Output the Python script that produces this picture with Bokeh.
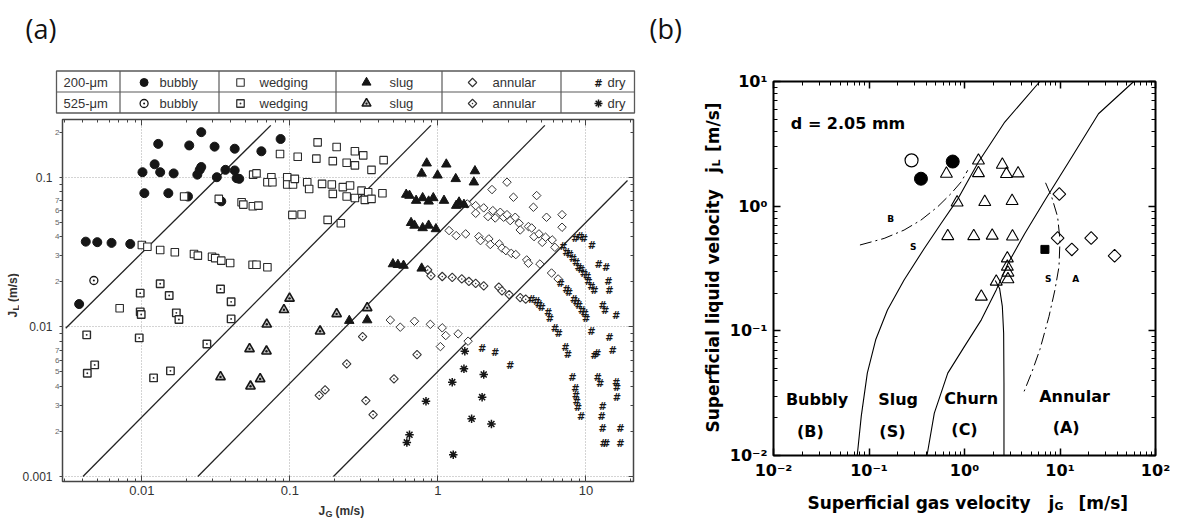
import math
from bokeh.plotting import figure
from bokeh.models import Range1d, FixedTicker, LogAxis
from bokeh.layouts import row, column
from bokeh.core.properties import value
from bokeh.embed import file_html
from bokeh.resources import INLINE

FA = "Liberation Sans"
FB = "DejaVu Sans"
INK = "#161616"

# ---------------- panel (a) data: (jG, jL) in m/s ----------------
A_BUB200 = [(0.0101, 0.108), (0.0122, 0.122), (0.0133, 0.108), (0.0129, 0.167), (0.0104, 0.0782),
            (0.0151, 0.0782), (0.0164, 0.106), (0.0209, 0.163), (0.0252, 0.200), (0.0237, 0.104),
            (0.0246, 0.112), (0.0252, 0.117), (0.0310, 0.160), (0.0321, 0.100), (0.0367, 0.112),
            (0.0424, 0.155), (0.0424, 0.111), (0.0437, 0.0985), (0.0455, 0.0975), (0.0642, 0.149),
            (0.0866, 0.180), (0.0205, 0.0743), (0.0344, 0.069), (0.00418, 0.0371), (0.00500, 0.0368),
            (0.00624, 0.0364), (0.00835, 0.0358), (0.00377, 0.0142)]
A_BUB525 = [(0.00474, 0.0204)]
A_WED200 = [(0.0193, 0.0743), (0.0331, 0.0716), (0.0472, 0.0680), (0.0485, 0.0656), (0.0562, 0.0640),
            (0.0613, 0.0646), (0.0565, 0.104), (0.0595, 0.106), (0.0750, 0.100), (0.0705, 0.0926),
            (0.0762, 0.0926), (0.0858, 0.143), (0.0960, 0.100), (0.0960, 0.0893), (0.105, 0.0893),
            (0.108, 0.0975), (0.113, 0.137), (0.104, 0.0560), (0.120, 0.0563), (0.131, 0.0926),
            (0.135, 0.0835), (0.151, 0.133), (0.154, 0.171),
            (0.0100, 0.0352), (0.0109, 0.0343), (0.0133, 0.0326), (0.0167, 0.0315), (0.0225, 0.0307),
            (0.0239, 0.0299), (0.0298, 0.0294), (0.0313, 0.0288), (0.0344, 0.0277), (0.0395, 0.0267),
            (0.0560, 0.0260), (0.0595, 0.0260), (0.0705, 0.0250), (0.00708, 0.0133),
            (0.207, 0.159), (0.275, 0.149), (0.313, 0.140), (0.195, 0.128), (0.242, 0.125),
            (0.275, 0.120), (0.356, 0.112), (0.430, 0.130), (0.165, 0.0902), (0.192, 0.0893),
            (0.195, 0.0774), (0.228, 0.0858), (0.255, 0.0880), (0.242, 0.0743), (0.275, 0.0727),
            (0.305, 0.0814), (0.338, 0.0794), (0.321, 0.0705), (0.356, 0.0716), (0.422, 0.0782),
            (0.180, 0.0519), (0.221, 0.0492)]
A_WED525 = [(0.00975, 0.0168), (0.00975, 0.0126), (0.0099, 0.0121), (0.0133, 0.0194), (0.0153, 0.0162),
            (0.0171, 0.0124), (0.0178, 0.0112), (0.0340, 0.0179), (0.0401, 0.0147), (0.0401, 0.0113),
            (0.00424, 0.00884), (0.00428, 0.0049), (0.0048, 0.00557), (0.0096, 0.00844),
            (0.0120, 0.00456), (0.0156, 0.00508), (0.0275, 0.00769)]
A_SLUG200 = [(0.840, 0.124), (1.14, 0.122), (0.777, 0.106), (0.995, 0.103), (1.32, 0.0975), (1.78, 0.110),
             (1.75, 0.0926), (0.611, 0.0766), (0.643, 0.0754), (0.713, 0.0698), (0.789, 0.0727),
             (0.866, 0.0690), (0.931, 0.0727), (1.10, 0.0698), (1.33, 0.0646), (1.39, 0.0680),
             (1.50, 0.0656), (0.659, 0.0496), (0.695, 0.0476), (0.789, 0.0458), (0.866, 0.0476),
             (0.970, 0.0451), (0.497, 0.0263), (0.537, 0.0260), (0.586, 0.0257), (0.777, 0.0246),
             (0.252, 0.0110), (0.333, 0.0111)]
A_SLUG525 = [(0.0995, 0.0155), (0.0912, 0.0130), (0.0698, 0.0104), (0.0534, 0.00713), (0.0695, 0.00687),
             (0.0340, 0.00463), (0.0542, 0.00401), (0.0630, 0.00449), (0.160, 0.00935), (0.207, 0.0122),
             (0.333, 0.0134)]
A_ANN200 = [(2.93, 0.0926), (2.32, 0.0827), (4.65, 0.0754), (3.24, 0.0735), (4.42, 0.0630), (5.42, 0.0540),
            (6.90, 0.0562), (6.90, 0.0463),
            (1.58, 0.0663), (1.80, 0.0646), (1.80, 0.0574), (2.04, 0.0624), (2.18, 0.0546), (2.35, 0.0598),
            (2.44, 0.0534), (2.64, 0.0583), (2.78, 0.0540), (2.93, 0.0562), (3.08, 0.0513), (3.33, 0.0540),
            (3.54, 0.0492), (3.60, 0.0444), (4.09, 0.0468), (4.30, 0.0458), (4.46, 0.0401), (4.82, 0.0418),
            (5.07, 0.0367), (5.34, 0.0397), (5.92, 0.0381), (6.17, 0.0340),
            (1.19, 0.0440), (1.33, 0.0407), (1.54, 0.0418), (1.89, 0.0401), (1.94, 0.0377), (2.21, 0.0387),
            (2.26, 0.0355), (2.60, 0.0358), (2.71, 0.0336), (2.88, 0.0323), (3.13, 0.0310), (3.36, 0.0304),
            (3.98, 0.0280), (4.09, 0.0266), (4.89, 0.0263), (5.86, 0.0229), (6.49, 0.0209),
            (0.477, 0.0111), (0.557, 0.00995), (0.695, 0.0109), (0.889, 0.0104), (1.07, 0.00985),
            (1.13, 0.00875), (1.37, 0.00898), (1.60, 0.00802), (1.04, 0.00738)]
A_ANN525 = [(0.853, 0.0240), (0.898, 0.0220), (1.07, 0.0217), (1.25, 0.0214), (1.45, 0.0209), (1.62, 0.0201),
            (1.80, 0.0195), (2.04, 0.0188), (2.58, 0.0184), (2.71, 0.0174), (3.03, 0.0164), (3.60, 0.0157),
            (3.92, 0.0153),
            (0.310, 0.00861), (0.723, 0.00653), (0.242, 0.00566), (0.505, 0.00449), (0.158, 0.00348),
            (0.173, 0.00379), (0.326, 0.00321), (0.365, 0.00259)]
A_DRY200 = [(8.49, 0.0391), (9.12, 0.0403), (9.70, 0.0391), (11.0, 0.0349), (7.02, 0.0344), (7.38, 0.0315),
            (7.78, 0.0304), (8.18, 0.0285), (8.61, 0.0270), (8.93, 0.0250), (9.31, 0.0240), (9.70, 0.0226),
            (10.2, 0.0217), (10.4, 0.0201), (10.9, 0.0186), (11.4, 0.0175), (12.2, 0.0260), (13.7, 0.0250),
            (14.2, 0.0201), (14.4, 0.0175), (13.0, 0.0139), (13.5, 0.0128), (16.0, 0.0119),
            (6.76, 0.0195), (7.38, 0.0179), (7.69, 0.0170), (8.31, 0.0153), (8.66, 0.0146), (8.98, 0.0139),
            (9.40, 0.0128), (9.80, 0.0123), (10.05, 0.0113), (4.30, 0.0153), (4.65, 0.0148), (4.82, 0.0141),
            (5.02, 0.0135), (5.57, 0.0125), (5.71, 0.0113),
            (6.17, 0.0097), (6.56, 0.00898), (7.27, 0.00731), (7.57, 0.00653), (8.10, 0.00456),
            (8.49, 0.00385), (8.57, 0.00348), (8.66, 0.00318), (8.84, 0.0029), (9.31, 0.00251),
            (10.9, 0.00935), (11.4, 0.00643), (11.9, 0.00667), (12.0, 0.00456), (12.5, 0.0042),
            (13.0, 0.00293), (12.8, 0.00251), (13.0, 0.00208), (13.2, 0.00165), (13.7, 0.00165),
            (14.4, 0.00853), (15.2, 0.00695), (16.0, 0.00427), (16.2, 0.00391), (16.2, 0.00339),
            (17.1, 0.00208), (17.1, 0.00165), (1.99, 0.00713), (2.44, 0.00677), (3.08, 0.00551)]
A_DRY525 = [(1.52, 0.00687), (1.50, 0.00524), (1.25, 0.00427), (2.04, 0.00480), (1.99, 0.00339),
            (0.831, 0.00318), (1.69, 0.00243), (2.30, 0.00224), (0.643, 0.00190), (0.617, 0.00169),
            (1.27, 0.00140)]
# transition lines (end points)
A_LINES = [[(0.00306, 0.0098), (0.0743, 0.222)],
           [(0.0040, 0.001), (0.897, 0.222)],
           [(0.0239, 0.001), (5.28, 0.222)],
           [(0.197, 0.001), (19.1, 0.095)]]
A_XMAJOR = [0.01, 0.1, 1, 10]
A_XLABELS = ["0.01", "0.1", "1", "10"]
A_YMAJOR = [0.001, 0.01, 0.1]
A_YLABELS = ["0.001", "0.01", "0.1"]
A_YINNER = [0.001, 0.002, 0.003, 0.004, 0.005, 0.006, 0.007, 0.01, 0.02, 0.03, 0.04, 0.05, 0.06, 0.07, 0.1, 0.2]
A_YINNER_LABELS = [" ", "2", "3", "4", "5", "6", "7", " ", "2", "3", "4", "5", "6", "7", " ", "2"]
ROWS = ["200-\u03bcm", "525-\u03bcm"]
REGIMES = ["bubbly", "wedging", "slug", "annular", "dry"]

# ---------------- panel (b) data ----------------
B_OPEN_CIRCLE = [(0.279, 2.33)]
B_FILLED_CIRCLE = [(0.35, 1.66), (0.753, 2.28)]
B_TRIANGLE = [(1.40, 2.32), (0.647, 1.82), (1.40, 1.84), (2.49, 2.15), (2.75, 1.81), (3.64, 1.83),
              (0.837, 1.07), (1.63, 1.08), (3.15, 1.10), (0.668, 0.575), (1.25, 0.575), (1.95, 0.58),
              (3.18, 0.571), (2.81, 0.381), (2.81, 0.327), (2.85, 0.293), (2.85, 0.259), (2.15, 0.248),
              (1.50, 0.188)]
B_SQUARE = [(6.95, 0.45)]
B_DIAMOND = [(9.84, 1.25), (9.44, 0.555), (13.3, 0.45), (21.2, 0.555), (37.3, 0.40)]
B_LINE_BS = [(0.0753, 0.01), (0.083, 0.0207), (0.096, 0.0458), (0.1175, 0.0848), (0.156, 0.147),
             (0.233, 0.256), (0.379, 0.458), (0.568, 0.726), (0.837, 1.117), (1.40, 2.26), (2.64, 4.73),
             (6.15, 10.0)]
B_LINE_CA = [(0.405, 0.01), (0.483, 0.0219), (0.668, 0.0458), (1.0, 0.075), (1.50, 0.1225), (2.15, 0.213),
             (2.86, 0.348), (4.28, 0.604), (6.95, 1.117), (13.3, 2.48), (25.3, 5.51), (59.2, 10.0)]
B_LINE_CHURN = [(2.10, 0.253), (2.33, 0.219), (2.49, 0.157), (2.57, 0.0957), (2.59, 0.0381), (2.59, 0.01)]
B_DASH_BS = [(0.0804, 0.488), (0.144, 0.551), (0.233, 0.643), (0.350, 0.773), (0.524, 0.989),
             (0.724, 1.263), (0.923, 1.566), (1.08, 1.94)]
B_DASH_SA = [(7.06, 1.54), (8.17, 1.19), (9.44, 0.822), (10.0, 0.535), (9.76, 0.327), (8.85, 0.213),
             (7.66, 0.130), (6.15, 0.0705), (5.03, 0.0458), (4.21, 0.0327)]
B_REGION_TEXT = ["Bubbly", "(B)", "Slug", "(S)", "Churn", "(C)", "Annular", "(A)"]
B_REGION_X = [0.0286, 0.0243, 0.2018, 0.176, 1.175, 1.0, 14.2, 11.6]
B_REGION_Y = [0.0281, 0.01567, 0.0281, 0.01567, 0.0289, 0.01614, 0.0299, 0.01663]
B_SMALL_TEXT = ["B", "S", "S", "A"]
B_SMALL_X = [0.169, 0.290, 7.53, 14.6]
B_SMALL_Y = [0.787, 0.467, 0.259, 0.259]
B_XMAJOR = [0.01, 0.1, 1, 10, 100]
B_XLABELS = ["10\u207b\u00b2", "10\u207b\u00b9", "10\u2070", "10\u00b9", "10\u00b2"]
B_YMAJOR = [0.01, 0.1, 1, 10]
B_YLABELS = ["10\u207b\u00b2", "10\u207b\u00b9", "10\u2070", "10\u00b9"]


def xs(pts):
    return [p[0] for p in pts]


def ys(pts):
    return [p[1] for p in pts]


def minors(decades):
    return [m * d for d in decades for m in range(2, 10)]


def no_align(p):
    if "frame_align" in p.properties():
        p.frame_align = False
    return p


def canvas(w, h, x0=0, y0=0):
    # plain pixel canvas; x0/y0 = position of its top-left corner on the page
    c = figure(width=w, height=h, x_range=Range1d(x0, x0 + w), y_range=Range1d(y0 + h, y0),
               min_border=0, toolbar_location=None, output_backend="svg")
    c.xaxis.visible = False
    c.yaxis.visible = False
    c.xgrid.visible = False
    c.ygrid.visible = False
    c.outline_line_color = None
    return no_align(c)


def tick_only_axis(ticker, tin, tmin):
    return LogAxis(ticker=ticker, axis_line_color=None, major_tick_in=tin, major_tick_out=0,
                   minor_tick_in=tmin, minor_tick_out=0, major_label_text_font_size="1px",
                   major_label_text_alpha=0.0, major_label_standoff=0)


# ---------------- top strip with panel letters ----------------
top = canvas(1177, 60)
top.text(x=[25, 649], y=[28, 28], text=["(a)", "(b)"], text_font=value("Open Sans"),
         text_font_size="27px", text_baseline="middle", text_align="left", text_color="#111111")

# ---------------- legend table of panel (a) ----------------
tbl = canvas(670, 54, 0, 60)
TL, TR, TT, TB, TM = 56, 634, 70.5, 112.5, 91.5
COLS = [119.5, 218.5, 335.5, 441.5, 560.5]
tbl.quad(left=[TL], right=[TR], top=[TT], bottom=[TB], fill_color=None, line_color="#5a5a5a", line_width=1.3)
tbl.segment(x0=[TL] + COLS, y0=[TM] + [TT] * 5, x1=[TR] + COLS, y1=[TM] + [TB] * 5,
            line_color="#5a5a5a", line_width=1.2)
RY = [82, 103]
tbl.text(x=[63, 63], y=RY, text=ROWS, text_font=value(FA), text_font_size="13px",
         text_baseline="middle", text_color="#333333")
TXT_X = [159, 259, 389, 492, 607]
for r in RY:
    tbl.text(x=TXT_X, y=[r] * 5, text=REGIMES, text_font=value(FA), text_font_size="13px",
             text_baseline="middle", text_color="#333333")
MK_X = [143.6, 240, 366, 472, 598]
tbl.scatter([MK_X[0]], [RY[0]], marker="circle", size=8, fill_color=INK, line_color=INK)
tbl.scatter([MK_X[0]], [RY[1]], marker="circle_dot", size=8, fill_color="white", line_color=INK, line_width=1.3)
tbl.scatter([MK_X[1]], [RY[0]], marker="square", size=7.5, fill_color="white", line_color="#333333", line_width=1.1)
tbl.scatter([MK_X[1]], [RY[1]], marker="square_dot", size=7.5, fill_color="white", line_color="#333333", line_width=1.3)
tbl.scatter([MK_X[2]], [RY[0]], marker="triangle", size=9, fill_color=INK, line_color=INK)
tbl.scatter([MK_X[2]], [RY[1]], marker="triangle_dot", size=9, fill_color="#c4c4c4", line_color=INK, line_width=1.5)
tbl.scatter([MK_X[3]], [RY[0]], marker="square", angle=math.pi / 4, size=6, fill_color="white", line_color="#333333", line_width=1.1)
tbl.scatter([MK_X[3]], [RY[1]], marker="square_dot", angle=math.pi / 4, size=6, fill_color="white", line_color="#333333", line_width=1.1)
tbl.text(x=[MK_X[4]], y=[RY[0] + 1], text=["#"], text_font=value(FB), text_font_size="10px",
         text_font_style="bold", text_align="center", text_baseline="middle", text_color=INK)
tbl.scatter([MK_X[4]], [RY[1]], marker="asterisk", size=8, line_color=INK, line_width=1.5)

# ---------------- panel (a) ----------------
pa = figure(width=651, height=386, x_axis_type="log", y_axis_type="log",
            x_range=Range1d(0.00291, 20.97), y_range=Range1d(0.000926, 0.243),
            min_border_left=38, min_border_right=37, min_border_top=5, min_border_bottom=19,
            toolbar_location=None, output_backend="svg")
no_align(pa)
pa.outline_line_color = "#444444"
pa.outline_line_width = 1.5

xa = pa.xaxis[0]
xa.ticker = FixedTicker(ticks=A_XMAJOR, minor_ticks=minors([0.001, 0.01, 0.1, 1, 10]))
xa.major_label_overrides = dict(zip(A_XMAJOR, A_XLABELS))
xa.axis_line_color = None
xa.major_tick_in, xa.major_tick_out, xa.minor_tick_in, xa.minor_tick_out = 6, 0, 3, 0
xa.major_tick_line_color = "#444444"
xa.minor_tick_line_color = "#444444"
xa.major_label_text_font = FA
xa.major_label_text_font_size = "13px"
xa.major_label_text_color = "#333333"
xa.major_label_standoff = 4

ya = pa.yaxis[0]
ya.ticker = FixedTicker(ticks=A_YINNER, minor_ticks=[0.008, 0.009, 0.08, 0.09])
ya.major_label_overrides = dict(zip(A_YINNER, A_YINNER_LABELS))
ya.axis_line_color = None
ya.major_tick_in, ya.major_tick_out, ya.minor_tick_in, ya.minor_tick_out = 0, 3, 0, 3
ya.major_tick_line_color = "#444444"
ya.minor_tick_line_color = "#444444"
ya.major_label_text_font = FA
ya.major_label_text_font_size = "8px"
ya.major_label_text_color = "#666666"
ya.major_label_standoff = 0

ya2 = LogAxis(ticker=FixedTicker(ticks=A_YMAJOR, minor_ticks=[]),
              major_label_overrides=dict(zip(A_YMAJOR, A_YLABELS)),
              axis_line_color=None, major_tick_in=0, major_tick_out=0, minor_tick_in=0, minor_tick_out=0,
              major_label_text_font=FA, major_label_text_font_size="12px",
              major_label_text_color="#333333", major_label_standoff=0)
pa.add_layout(ya2, "left")

ta = tick_only_axis(FixedTicker(ticks=A_XMAJOR, minor_ticks=minors([0.001, 0.01, 0.1, 1, 10])), 6, 3)
ta.major_tick_line_color = "#444444"
ta.minor_tick_line_color = "#444444"
pa.add_layout(ta, "above")
ra = tick_only_axis(FixedTicker(ticks=A_YMAJOR, minor_ticks=minors([0.001, 0.01]) + [0.2]), 5, 3)
ra.major_tick_line_color = "#444444"
ra.minor_tick_line_color = "#444444"
pa.add_layout(ra, "right")

pa.xgrid[0].ticker = FixedTicker(ticks=A_XMAJOR)
pa.ygrid[0].ticker = FixedTicker(ticks=A_YMAJOR)
pa.grid.grid_line_color = "#a8a8a8"
pa.grid.grid_line_dash = "1 2"
pa.grid.grid_line_width = 1

for seg in A_LINES:
    pa.line(xs(seg), ys(seg), line_color="#222222", line_width=1.3)

pa.scatter(xs(A_BUB200), ys(A_BUB200), marker="circle", size=9, fill_color=INK, line_color=INK)
pa.scatter(xs(A_BUB525), ys(A_BUB525), marker="circle_dot", size=8, fill_color="white", line_color=INK, line_width=1.3)
pa.scatter(xs(A_WED200), ys(A_WED200), marker="square", size=7.5, fill_color="white", line_color="#2a2a2a", line_width=1.1)
pa.scatter(xs(A_WED525), ys(A_WED525), marker="square_dot", size=7.5, fill_color="white", line_color="#2a2a2a", line_width=1.4)
pa.scatter(xs(A_ANN200), ys(A_ANN200), marker="square", angle=math.pi / 4, size=6, fill_color="white", line_color="#333333", line_width=1.0)
pa.scatter(xs(A_ANN525), ys(A_ANN525), marker="square_dot", angle=math.pi / 4, size=6, fill_color="white", line_color="#333333", line_width=1.1)
pa.scatter(xs(A_SLUG200), ys(A_SLUG200), marker="triangle", size=9.5, fill_color=INK, line_color=INK)
pa.scatter(xs(A_SLUG525), ys(A_SLUG525), marker="triangle_dot", size=9.5, fill_color="#c4c4c4", line_color=INK, line_width=1.6)
pa.text(xs(A_DRY200), ys(A_DRY200), text=["#"] * len(A_DRY200), text_font=value(FB), text_font_size="10px",
        text_font_style="bold", text_align="center", text_baseline="middle", text_color=INK)
pa.scatter(xs(A_DRY525), ys(A_DRY525), marker="asterisk", size=8.5, line_color=INK, line_width=1.5)

# axis title strips of panel (a)
a_left = canvas(19, 386, 0, 114)
a_left.text(x=[12, 15, 12], y=[317, 310, 301.5], text=["J", "L", "(m/s)"], angle=math.pi / 2,
            text_font=value(FA), text_font_style="bold", text_font_size=["12px", "9px", "12px"],
            text_align="left", text_baseline="middle", text_color="#333333")
a_bot = canvas(670, 19, 0, 500)
a_bot.text(x=[318, 325, 335], y=[510, 513, 510], text=["J", "G", "(m/s)"],
           text_font=value(FA), text_font_style="bold", text_font_size=["12px", "9px", "12px"],
           text_align="left", text_baseline="middle", text_color="#333333")

# ---------------- panel (b) ----------------
pb = figure(width=453, height=430, x_axis_type="log", y_axis_type="log",
            x_range=Range1d(0.01, 100), y_range=Range1d(0.01, 10),
            min_border_left=49, min_border_right=22, min_border_top=21, min_border_bottom=35,
            toolbar_location=None, output_backend="svg")
no_align(pb)
pb.xgrid.visible = False
pb.ygrid.visible = False
pb.outline_line_color = "black"
pb.outline_line_width = 2

bx = pb.xaxis[0]
bx.ticker = FixedTicker(ticks=B_XMAJOR, minor_ticks=minors([0.01, 0.1, 1, 10]))
bx.major_label_overrides = dict(zip(B_XMAJOR, B_XLABELS))
by = pb.yaxis[0]
by.ticker = FixedTicker(ticks=B_YMAJOR, minor_ticks=minors([0.01, 0.1, 1]))
by.major_label_overrides = dict(zip(B_YMAJOR, B_YLABELS))
for ax in (bx, by):
    ax.axis_line_color = None
    ax.major_tick_in, ax.major_tick_out, ax.minor_tick_in, ax.minor_tick_out = 7, 0, 4, 0
    ax.major_tick_line_color = "black"
    ax.minor_tick_line_color = "black"
    ax.major_tick_line_width = 1.5
    ax.major_label_text_font = FB
    ax.major_label_text_font_style = "bold"
    ax.major_label_text_font_size = "16px"
    ax.major_label_text_color = "black"
bx.major_label_standoff = 5
by.major_label_standoff = 6
bt = tick_only_axis(FixedTicker(ticks=B_XMAJOR, minor_ticks=minors([0.01, 0.1, 1, 10])), 7, 4)
bt.major_tick_line_width = 1.5
pb.add_layout(bt, "above")
br = tick_only_axis(FixedTicker(ticks=B_YMAJOR, minor_ticks=minors([0.01, 0.1, 1])), 7, 4)
br.major_tick_line_width = 1.5
pb.add_layout(br, "right")

for ln in (B_LINE_BS, B_LINE_CA, B_LINE_CHURN):
    pb.line(xs(ln), ys(ln), line_color="black", line_width=1.1)
for ln in (B_DASH_BS, B_DASH_SA):
    pb.line(xs(ln), ys(ln), line_color="black", line_width=1.0, line_dash="12 4 2 4")

pb.scatter(xs(B_TRIANGLE), ys(B_TRIANGLE), marker="triangle", size=12, fill_color="white", fill_alpha=0.0,
           line_color="black", line_width=1.1)
pb.scatter(xs(B_OPEN_CIRCLE), ys(B_OPEN_CIRCLE), marker="circle", size=13, fill_color="white",
           line_color="black", line_width=1.2)
pb.scatter(xs(B_FILLED_CIRCLE), ys(B_FILLED_CIRCLE), marker="circle", size=13, fill_color="black", line_color="black")
pb.scatter(xs(B_SQUARE), ys(B_SQUARE), marker="square", size=8, fill_color="black", line_color="black")
pb.scatter(xs(B_DIAMOND), ys(B_DIAMOND), marker="square", angle=math.pi / 4, size=9, fill_color="white",
           fill_alpha=0.0, line_color="black", line_width=1.1)

pb.text(B_REGION_X, B_REGION_Y, text=B_REGION_TEXT, text_font=value(FB), text_font_style="bold",
        text_font_size="16px", text_align="center", text_baseline="middle", text_color="black")
pb.text(B_SMALL_X, B_SMALL_Y, text=B_SMALL_TEXT, text_font=value(FB), text_font_style="bold",
        text_font_size="9px", text_align="center", text_baseline="middle", text_color="black")
pb.text([0.0152], [4.64], text=["d = 2.05 mm"], text_font=value(FB), text_font_style="bold",
        text_font_size="16px", text_align="left", text_baseline="middle", text_color="black")

# axis title strips of panel (b)
b_left = canvas(54, 430, 670, 60)
b_left.text(x=[712, 712, 716, 712], y=[432, 172.5, 166, 151.5],
            text=["Superficial liquid velocity", "j", "L", "[m/s]"],
            angle=math.pi / 2, text_font=value(FB), text_font_style="bold",
            text_font_size=["17px", "17px", "11px", "17px"], text_align="left", text_baseline="middle",
            text_color="black")
b_bot = canvas(507, 29, 670, 490)
b_bot.text(x=[807, 1048, 1054, 1078], y=[502, 502, 506, 502], text=["Superficial gas velocity", "j", "G", "[m/s]"],
           text_font=value(FB), text_font_style="bold", text_font_size=["17px", "17px", "11px", "17px"],
           text_align="left", text_baseline="middle", text_color="black")

layout = column(top, row(column(tbl, row(a_left, pa), a_bot), column(row(b_left, pb), b_bot)))
html = file_html(layout, INLINE)
open("out.html", "w", encoding="utf-8").write(html)
